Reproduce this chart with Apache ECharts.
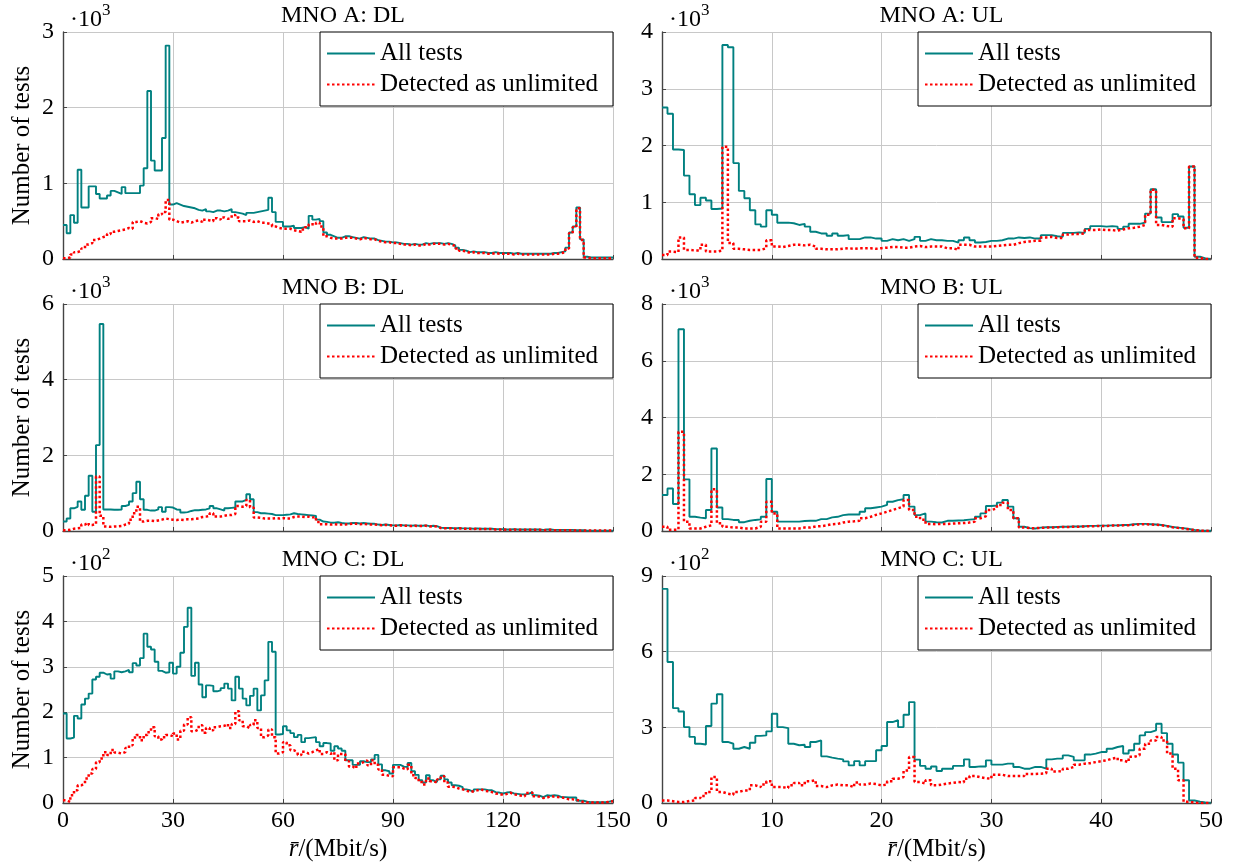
<!DOCTYPE html>
<html>
<head>
<meta charset="utf-8">
<script src="https://cdn.jsdelivr.net/npm/echarts@6/dist/echarts.min.js"></script>
<style>
html, body { margin: 0; padding: 0; background: #fff; }
#chart { width: 1235px; height: 867px; }
</style>
</head>
<body>
<div id="chart"></div>
<script>
// histogram bin widths in Mbit/s (DL: 150 bins, UL: 100 bins)
var dlBin = 1;
var ulBin = 0.5;
var seriesNames = ['All tests', 'Detected as unlimited'];
var panelTitles = ['MNO A: DL', 'MNO A: UL', 'MNO B: DL', 'MNO B: UL', 'MNO C: DL', 'MNO C: UL'];
var panelExp = ['3', '3', '3', '3', '2', '2'];
var yMax = [3, 4, 6, 8, 5, 9];
var yStep = [1, 1, 2, 2, 1, 3];
var dlTicks = [0, 30, 60, 90, 120, 150];
var ulTicks = [0, 10, 20, 30, 40, 50];

// values in units of the panel's exponent (x10^3 or x10^2)
var dlA_all = [0.45,0.34,0.58,0.48,1.18,0.68,0.68,0.96,0.96,0.86,
  0.80,0.80,0.84,0.90,0.88,0.86,0.95,0.87,0.87,0.87,
  0.87,0.97,1.20,2.22,1.30,1.17,1.17,1.60,2.82,0.72,
  0.74,0.72,0.70,0.69,0.68,0.67,0.65,0.64,0.66,0.63,
  0.62,0.64,0.64,0.63,0.64,0.66,0.62,0.61,0.60,0.58,
  0.61,0.61,0.62,0.63,0.64,0.65,0.81,0.62,0.49,0.49,
  0.43,0.43,0.44,0.41,0.41,0.42,0.40,0.57,0.52,0.53,
  0.50,0.35,0.32,0.30,0.28,0.28,0.30,0.30,0.29,0.28,
  0.27,0.29,0.28,0.27,0.27,0.25,0.24,0.23,0.23,0.22,
  0.22,0.21,0.20,0.20,0.19,0.20,0.19,0.19,0.21,0.20,
  0.21,0.21,0.21,0.20,0.21,0.20,0.18,0.15,0.12,0.11,
  0.09,0.10,0.09,0.09,0.09,0.08,0.08,0.09,0.08,0.08,
  0.08,0.08,0.07,0.08,0.07,0.07,0.07,0.07,0.07,0.07,
  0.07,0.07,0.07,0.08,0.08,0.09,0.10,0.15,0.35,0.43,
  0.68,0.26,0.03,0.02,0.02,0.02,0.02,0.02,0.02,0.02];
var dlA_unl = [0.01,0.02,0.06,0.09,0.11,0.14,0.19,0.21,0.25,0.27,
  0.29,0.30,0.33,0.36,0.37,0.38,0.39,0.41,0.40,0.49,
  0.50,0.48,0.47,0.49,0.54,0.53,0.59,0.62,0.78,0.52,
  0.50,0.48,0.49,0.50,0.48,0.50,0.51,0.49,0.52,0.51,
  0.50,0.54,0.52,0.55,0.53,0.54,0.58,0.55,0.50,0.50,
  0.51,0.49,0.50,0.48,0.48,0.47,0.46,0.43,0.41,0.40,
  0.40,0.40,0.38,0.37,0.36,0.39,0.42,0.46,0.45,0.48,
  0.43,0.30,0.28,0.27,0.27,0.27,0.28,0.28,0.28,0.27,
  0.26,0.28,0.27,0.26,0.26,0.24,0.23,0.22,0.22,0.21,
  0.21,0.20,0.19,0.19,0.18,0.19,0.18,0.18,0.20,0.19,
  0.20,0.20,0.20,0.19,0.20,0.19,0.17,0.14,0.11,0.10,
  0.08,0.09,0.08,0.08,0.08,0.07,0.07,0.08,0.07,0.07,
  0.07,0.07,0.06,0.07,0.06,0.06,0.06,0.06,0.06,0.06,
  0.06,0.06,0.06,0.07,0.07,0.08,0.09,0.14,0.34,0.42,
  0.67,0.25,0.02,0.01,0.01,0.01,0.01,0.01,0.01,0.01];
var ulA_all = [2.67,2.56,1.93,1.92,1.47,1.14,0.95,1.08,1.03,0.88,
  0.89,3.77,3.73,1.69,1.20,1.07,0.86,0.61,0.57,0.86,
  0.78,0.64,0.64,0.63,0.60,0.62,0.57,0.48,0.45,0.45,
  0.41,0.45,0.41,0.42,0.35,0.35,0.38,0.38,0.36,0.36,
  0.32,0.35,0.33,0.35,0.32,0.35,0.39,0.32,0.35,0.33,
  0.33,0.32,0.32,0.29,0.33,0.38,0.33,0.29,0.30,0.32,
  0.32,0.33,0.36,0.36,0.38,0.37,0.38,0.36,0.36,0.42,
  0.42,0.40,0.39,0.46,0.46,0.47,0.46,0.53,0.58,0.58,
  0.57,0.58,0.57,0.53,0.57,0.62,0.62,0.64,0.80,1.23,
  0.73,0.65,0.65,0.79,0.75,0.55,1.63,0.04,0.01,0.00];
var ulA_unl = [0.07,0.13,0.12,0.38,0.16,0.15,0.15,0.25,0.13,0.13,
  0.15,1.98,0.28,0.18,0.17,0.16,0.16,0.16,0.19,0.33,
  0.22,0.21,0.23,0.25,0.25,0.24,0.25,0.22,0.18,0.17,
  0.17,0.17,0.18,0.19,0.18,0.19,0.19,0.19,0.18,0.19,
  0.20,0.21,0.21,0.20,0.20,0.22,0.23,0.21,0.22,0.22,
  0.22,0.19,0.19,0.16,0.25,0.25,0.22,0.22,0.22,0.22,
  0.23,0.24,0.25,0.25,0.28,0.30,0.31,0.32,0.32,0.38,
  0.39,0.37,0.37,0.43,0.44,0.44,0.45,0.51,0.51,0.52,
  0.51,0.51,0.50,0.52,0.54,0.55,0.57,0.60,0.78,1.22,
  0.60,0.58,0.57,0.72,0.70,0.54,1.63,0.02,0.00,0.00];
var dlB_all = [0.25,0.33,0.60,0.64,0.78,0.56,0.93,1.46,0.51,2.27,
  5.47,0.57,0.57,0.56,0.56,0.57,0.66,0.69,0.78,1.00,
  1.30,0.84,0.56,0.54,0.54,0.57,0.63,0.51,0.63,0.62,
  0.57,0.56,0.49,0.50,0.53,0.55,0.55,0.56,0.57,0.60,
  0.66,0.60,0.57,0.54,0.60,0.61,0.62,0.78,0.78,0.82,
  0.97,0.84,0.50,0.47,0.47,0.46,0.45,0.42,0.42,0.42,
  0.43,0.44,0.47,0.45,0.44,0.43,0.42,0.41,0.40,0.30,
  0.25,0.24,0.22,0.22,0.23,0.21,0.20,0.20,0.21,0.21,
  0.20,0.21,0.20,0.19,0.19,0.17,0.16,0.17,0.16,0.15,
  0.15,0.16,0.15,0.15,0.14,0.15,0.14,0.14,0.15,0.13,
  0.14,0.13,0.09,0.08,0.08,0.08,0.07,0.08,0.07,0.07,
  0.07,0.06,0.07,0.06,0.06,0.06,0.06,0.05,0.05,0.05,
  0.04,0.04,0.05,0.04,0.04,0.04,0.04,0.04,0.04,0.04,
  0.03,0.04,0.04,0.03,0.03,0.03,0.03,0.03,0.03,0.02,
  0.02,0.02,0.01,0.01,0.01,0.01,0.01,0.01,0.01,0.01];
var dlB_unl = [0.02,0.03,0.06,0.07,0.08,0.17,0.22,0.16,0.18,1.44,
  0.40,0.12,0.11,0.12,0.12,0.13,0.17,0.19,0.30,0.47,
  0.64,0.25,0.27,0.27,0.26,0.28,0.30,0.33,0.31,0.30,
  0.29,0.30,0.29,0.31,0.31,0.32,0.33,0.37,0.38,0.40,
  0.47,0.38,0.38,0.40,0.42,0.42,0.45,0.66,0.64,0.66,
  0.82,0.62,0.36,0.35,0.33,0.33,0.33,0.34,0.33,0.34,
  0.33,0.33,0.37,0.38,0.38,0.37,0.38,0.36,0.37,0.24,
  0.18,0.18,0.17,0.18,0.17,0.17,0.17,0.18,0.19,0.19,
  0.18,0.19,0.18,0.17,0.17,0.16,0.15,0.16,0.15,0.14,
  0.14,0.15,0.14,0.14,0.13,0.14,0.13,0.13,0.14,0.12,
  0.13,0.12,0.08,0.07,0.07,0.07,0.06,0.07,0.06,0.06,
  0.06,0.05,0.06,0.05,0.05,0.05,0.05,0.04,0.04,0.04,
  0.03,0.03,0.04,0.03,0.03,0.03,0.03,0.03,0.03,0.03,
  0.02,0.03,0.03,0.02,0.02,0.02,0.02,0.02,0.02,0.01,
  0.01,0.01,0.01,0.01,0.01,0.01,0.01,0.01,0.01,0.01];
var ulB_all = [1.27,1.50,0.95,7.11,1.82,0.50,0.47,0.45,0.74,2.91,
  0.83,0.42,0.39,0.39,0.31,0.36,0.39,0.41,0.50,1.83,
  0.68,0.33,0.33,0.33,0.33,0.35,0.36,0.36,0.42,0.42,
  0.48,0.50,0.56,0.58,0.58,0.58,0.68,0.80,0.83,0.86,
  0.92,1.03,1.09,1.12,1.27,0.86,0.56,0.62,0.33,0.31,
  0.30,0.36,0.36,0.37,0.38,0.40,0.42,0.50,0.62,0.88,
  0.90,1.00,1.09,0.86,0.45,0.15,0.10,0.09,0.12,0.13,
  0.13,0.14,0.15,0.15,0.16,0.16,0.17,0.18,0.18,0.19,
  0.19,0.20,0.20,0.21,0.21,0.24,0.25,0.25,0.24,0.23,
  0.21,0.18,0.14,0.12,0.10,0.07,0.04,0.02,0.01,0.01];
var ulB_unl = [0.15,0.04,0.05,3.50,0.33,0.09,0.09,0.15,0.20,1.47,
  0.27,0.15,0.12,0.12,0.09,0.09,0.09,0.15,0.33,1.03,
  0.62,0.09,0.09,0.09,0.09,0.12,0.12,0.16,0.17,0.20,
  0.24,0.25,0.30,0.33,0.34,0.36,0.45,0.50,0.57,0.62,
  0.68,0.74,0.80,0.86,1.09,0.74,0.50,0.40,0.25,0.24,
  0.25,0.25,0.26,0.27,0.28,0.30,0.33,0.45,0.52,0.74,
  0.80,0.92,1.00,0.74,0.45,0.12,0.10,0.10,0.11,0.12,
  0.12,0.13,0.14,0.14,0.15,0.15,0.16,0.17,0.17,0.18,
  0.18,0.19,0.19,0.20,0.20,0.22,0.23,0.24,0.23,0.22,
  0.20,0.17,0.13,0.11,0.09,0.06,0.03,0.01,0.01,0.00];
var dlC_all = [1.97,1.42,1.44,1.92,1.86,2.17,2.30,2.41,2.72,2.78,
  2.87,2.83,2.84,2.74,2.90,2.88,2.90,2.93,2.88,3.08,
  3.03,3.19,3.73,3.44,3.38,3.11,2.91,2.87,2.88,3.09,
  2.85,3.00,3.31,3.88,4.30,2.80,3.09,2.61,2.33,2.59,
  2.58,2.46,2.48,2.53,2.63,2.52,2.26,2.78,2.52,2.30,
  2.15,2.36,2.52,2.04,2.37,2.70,3.55,3.33,1.51,1.52,
  1.69,1.60,1.54,1.45,1.50,1.34,1.43,1.44,1.45,1.34,
  1.25,1.32,1.31,1.15,1.25,1.20,1.15,0.94,0.94,0.84,
  0.84,0.92,0.90,0.90,0.96,1.06,0.85,0.72,0.70,0.65,
  0.84,0.84,0.80,0.79,0.88,0.70,0.62,0.50,0.45,0.61,
  0.50,0.46,0.52,0.60,0.52,0.45,0.39,0.38,0.35,0.30,
  0.28,0.25,0.30,0.30,0.30,0.28,0.28,0.24,0.23,0.21,
  0.23,0.24,0.21,0.20,0.19,0.19,0.20,0.24,0.17,0.16,
  0.13,0.17,0.16,0.17,0.16,0.13,0.13,0.12,0.12,0.12,
  0.05,0.05,0.03,0.02,0.02,0.02,0.02,0.02,0.03,0.05];
var dlC_unl = [0.06,0.02,0.17,0.28,0.39,0.43,0.54,0.65,0.75,0.90,
  0.98,1.12,1.06,1.17,1.11,1.09,1.12,1.21,1.27,1.44,
  1.50,1.38,1.50,1.56,1.67,1.47,1.40,1.45,1.50,1.47,
  1.53,1.40,1.59,1.73,1.89,1.58,1.62,1.71,1.55,1.65,
  1.60,1.67,1.69,1.70,1.74,1.65,1.74,2.02,1.82,1.69,
  1.65,1.72,1.82,1.65,1.45,1.49,1.62,1.45,1.09,1.12,
  1.34,1.27,1.16,1.12,1.06,1.13,1.09,1.12,1.16,1.19,
  1.08,1.12,1.08,1.12,0.94,1.08,1.08,0.92,0.80,0.76,
  0.87,0.90,0.94,0.83,0.94,0.84,0.74,0.62,0.60,0.59,
  0.79,0.79,0.76,0.74,0.84,0.61,0.55,0.46,0.41,0.54,
  0.48,0.45,0.52,0.59,0.45,0.36,0.35,0.32,0.30,0.28,
  0.24,0.26,0.28,0.30,0.27,0.26,0.24,0.21,0.20,0.18,
  0.20,0.23,0.19,0.18,0.16,0.15,0.22,0.23,0.15,0.14,
  0.11,0.12,0.15,0.14,0.13,0.12,0.11,0.08,0.08,0.07,
  0.05,0.02,0.01,0.01,0.01,0.01,0.01,0.01,0.03,0.04];
var ulC_all = [8.49,5.59,3.76,3.63,3.01,2.62,2.35,2.32,3.05,3.94,
  4.31,2.42,2.35,2.15,2.22,2.15,2.39,2.66,2.68,2.84,
  3.54,3.01,2.97,2.35,2.29,2.31,2.22,2.42,2.48,1.85,
  1.80,1.76,1.73,1.65,1.49,1.66,1.49,1.66,1.66,2.09,
  2.26,3.21,3.28,3.01,3.50,4.00,1.72,1.47,1.36,1.45,
  1.27,1.36,1.36,1.47,1.47,1.73,1.43,1.45,1.45,1.69,
  1.52,1.52,1.56,1.56,1.43,1.36,1.36,1.43,1.43,1.36,
  1.73,1.76,1.76,1.89,1.83,1.69,1.69,1.92,1.96,2.02,
  2.02,2.15,2.22,2.26,1.96,2.09,2.35,2.68,2.81,2.88,
  3.14,2.77,2.35,1.92,1.60,0.90,0.10,0.05,0.02,0.01];
var ulC_unl = [0.10,0.07,0.04,0.04,0.08,0.10,0.20,0.28,0.44,1.03,
  0.44,0.37,0.33,0.44,0.50,0.50,0.70,0.63,0.73,0.86,
  0.63,0.63,0.59,0.70,0.79,0.70,0.86,0.90,0.67,0.63,
  0.70,0.73,0.70,0.70,0.63,0.81,0.73,0.77,0.75,0.70,
  0.73,0.86,0.96,1.03,1.29,1.82,0.83,0.77,0.90,0.70,
  0.73,0.77,0.80,0.83,0.82,0.96,1.07,1.02,0.98,0.96,
  1.12,1.12,1.07,1.07,1.07,1.07,1.15,1.15,1.16,1.18,
  1.36,1.25,1.27,1.36,1.43,1.52,1.56,1.58,1.62,1.66,
  1.69,1.76,1.80,1.69,1.62,1.83,1.89,2.15,2.35,2.48,
  2.62,2.48,1.96,1.36,0.90,0.05,0.01,0.00,0.00,0.00];

var allData = [dlA_all, ulA_all, dlB_all, ulB_all, dlC_all, ulC_all];
var unlData = [dlA_unl, ulA_unl, dlB_unl, ulB_unl, dlC_unl, ulC_unl];

// turn bin counts into const-plot points (left edges + closing right edge)
function toSteps(vals, w) {
  var pts = vals.map(function (v, i) { return [+(i * w).toFixed(2), v]; });
  pts.push([+(vals.length * w).toFixed(2), vals[vals.length - 1]]);
  return pts;
}

var font = 'Liberation Serif';
var colLeft = [63, 662];
var colWidth = [550, 549];
var rowTop = [32, 304, 576];
var plotH = 227;
var tickSize = 24, textSize = 25;

var grids = [], xAxes = [], yAxes = [], series = [], legends = [], titles = [];

for (var p = 0; p < 6; p++) {
  var col = p % 2, row = Math.floor(p / 2);
  var isDL = col === 0;
  var ticks = isDL ? dlTicks : ulTicks;
  var bottom = row === 2;

  grids.push({ left: colLeft[col], top: rowTop[row], width: colWidth[col], height: plotH });

  xAxes.push({
    type: 'value', gridIndex: p, min: ticks[0], max: ticks[ticks.length - 1],
    interval: ticks[1] - ticks[0],
    axisLine: { show: true, onZero: false, lineStyle: { color: '#444', width: 1.4 } },
    axisTick: { show: true, inside: true, length: 4, lineStyle: { color: '#444' } },
    axisLabel: { show: bottom, color: '#000', fontSize: tickSize, fontFamily: font, margin: 6 },
    splitLine: { show: true, lineStyle: { color: '#c8c8c8', width: 1 } },
    name: bottom ? '{i|r\u0304}/(Mbit/s)' : '',
    nameLocation: 'middle', nameGap: 34,
    nameTextStyle: { color: '#000', fontSize: textSize, fontFamily: font,
      rich: { i: { fontStyle: 'italic', fontSize: textSize, fontFamily: font, color: '#000' } } }
  });

  yAxes.push({
    type: 'value', gridIndex: p, min: 0, max: yMax[p], interval: yStep[p],
    axisLine: { show: true, lineStyle: { color: '#444', width: 1.4 } },
    axisTick: { show: true, inside: true, length: 4, lineStyle: { color: '#444' } },
    axisLabel: { color: '#000', fontSize: tickSize, fontFamily: font, margin: 9 },
    splitLine: { show: true, lineStyle: { color: '#c8c8c8', width: 1 } },
    name: isDL ? 'Number of tests' : '',
    nameLocation: 'middle', nameGap: 28, nameRotate: 90,
    nameTextStyle: { color: '#000', fontSize: textSize, fontFamily: font }
  });

  var w = isDL ? dlBin : ulBin;
  series.push({
    name: seriesNames[0], type: 'line', step: 'end', symbol: 'none',
    xAxisIndex: p, yAxisIndex: p, data: toSteps(allData[p], w),
    lineStyle: { color: '#008080', width: 1.9 }, itemStyle: { color: '#008080' }, z: 2
  });
  series.push({
    name: seriesNames[1], type: 'line', step: 'end', symbol: 'none',
    xAxisIndex: p, yAxisIndex: p, data: toSteps(unlData[p], w),
    lineStyle: { color: '#ff0000', width: 2.5, type: [2.5, 2.5] }, itemStyle: { color: '#ff0000' }, z: 3
  });

  legends.push({
    data: seriesNames.map(function (n) { return { name: n, itemStyle: { opacity: 0 } }; }),
    orient: 'vertical', selectedMode: false,
    right: col === 0 ? 1235 - 613 : 1235 - 1211, top: rowTop[row],
    itemWidth: 48, itemHeight: 14, itemGap: 6, padding: [9, 15, 9, 6],
    backgroundColor: '#fff', borderColor: '#000', borderWidth: 1, borderRadius: 0,
    textStyle: { color: '#000', fontSize: textSize, fontFamily: font }
  });

  titles.push({
    text: panelTitles[p], left: colLeft[col] + colWidth[col] / 2, textAlign: 'center',
    top: rowTop[row] - 33,
    textStyle: { color: '#000', fontSize: 24, fontWeight: 'normal', fontFamily: font }
  });
  titles.push({
    text: '{a|\u00b710}{b|' + panelExp[p] + '}', left: colLeft[col] + 2, top: rowTop[row] - 39,
    textStyle: { fontWeight: 'normal', rich: {
      a: { fontSize: tickSize, fontWeight: 'normal', fontFamily: font, color: '#000', padding: [10, 0, 0, 0] },
      b: { fontSize: 17, fontWeight: 'normal', fontFamily: font, color: '#000', padding: [0, 0, 8, 0] }
    } }
  });
}

var chart = echarts.init(document.getElementById('chart'));
chart.setOption({
  animation: false,
  textStyle: { fontFamily: font },
  title: titles,
  legend: legends,
  grid: grids,
  xAxis: xAxes,
  yAxis: yAxes,
  series: series
});
</script>
</body>
</html>
